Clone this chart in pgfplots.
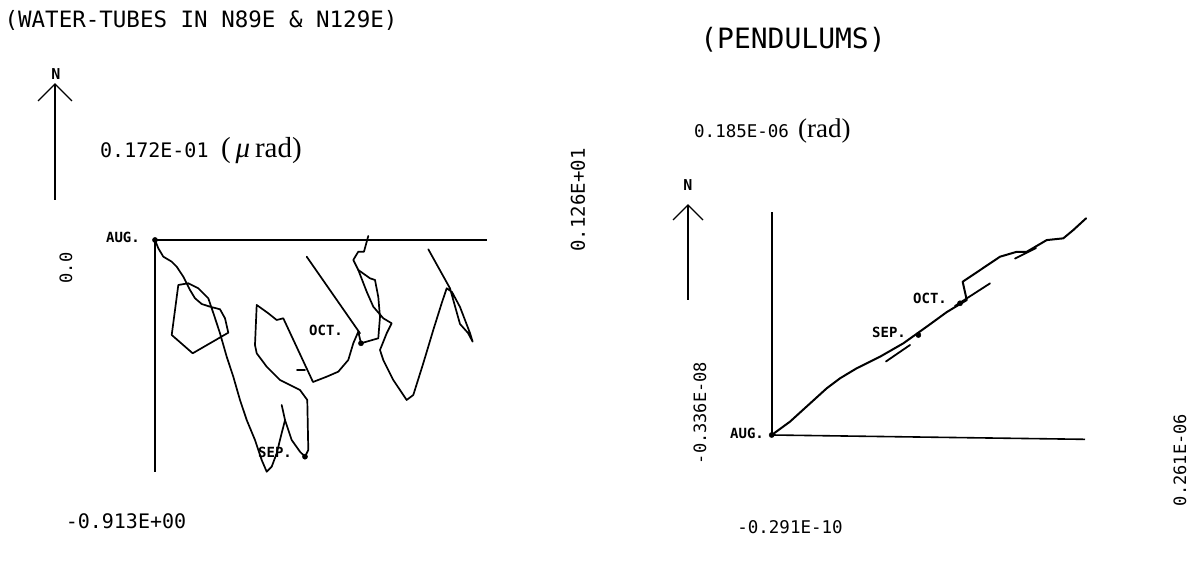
\documentclass[border=0pt]{standalone}
\usepackage{pgfplots}
\pgfplotsset{compat=1.18}
\usepackage{fontspec}
\newfontfamily\plotfont{DejaVu Sans Mono}
\newfontfamily\serfont{Liberation Serif}
\pgfplotsset{trace/.style={black, line width=1.7pt, line join=round, line cap=round}}
\begin{document}
\begin{tikzpicture}[x=1pt,y=1pt]
\useasboundingbox (0pt,0pt) rectangle (1193pt,576pt);
% ---------------- left panel: water tubes ----------------
\begin{axis}[at={(155pt,104.1pt)}, anchor=south west, scale only axis,
  width=332pt, height=236.3pt, xmin=0, xmax=1.3175, ymin=-0.913, ymax=0.0172,
  hide axis, clip=false]
\addplot[black, line width=1.8pt] coordinates {(0,0) (1.3175,0)};
\addplot[black, line width=1.8pt] coordinates {(0,0) (0,-0.912)};
\addplot[trace] coordinates {
(0,0) (0.0131,-0.0327) (0.0329,-0.0657) (0.0663,-0.0854) (0.0861,-0.1051)
(0.1123,-0.1445) (0.1389,-0.1969) (0.1587,-0.2295) (0.1853,-0.2520)
(0.2182,-0.2626) (0.2579,-0.2728) (0.2778,-0.3083) (0.2909,-0.3650)
(0.1496,-0.4461) (0.0663,-0.3740) (0.0925,-0.1772) (0.1321,-0.1705)
(0.1718,-0.1902) (0.2115,-0.2295) (0.2341,-0.2953) (0.2579,-0.3673)
(0.2845,-0.4594) (0.3107,-0.5382) (0.3373,-0.6299) (0.3639,-0.7087)
(0.3968,-0.7874) (0.4234,-0.8661) (0.4432,-0.9122) (0.4631,-0.8925)
(0.4829,-0.8398) (0.4960,-0.7874) (0.5159,-0.7087) (0.5028,-0.6496)};
\addplot[trace] coordinates {
(0.5159,-0.7087) (0.5424,-0.7874) (0.5754,-0.8335) (0.5952,-0.8531)
(0.6083,-0.8268) (0.6043,-0.6299) (0.5754,-0.5906) (0.4960,-0.5512)
(0.4432,-0.4988) (0.4036,-0.4461) (0.3968,-0.4134) (0.4036,-0.2559)
(0.4496,-0.2886) (0.4829,-0.3150) (0.5091,-0.3083) (0.6270,-0.5591)
(0.6813,-0.5382) (0.7273,-0.5185) (0.7670,-0.4724) (0.7869,-0.4067)
(0.8067,-0.3610) (0.8174,-0.4067) (0.8861,-0.3870) (0.8928,-0.3031)
(0.8861,-0.2244) (0.8730,-0.1575) (0.8531,-0.1508) (0.8067,-0.1181)
(0.7869,-0.0787) (0.8067,-0.0461) (0.8293,-0.0461) (0.8464,0.0157)};
\addplot[trace] coordinates {
(0.8067,-0.1181) (0.8400,-0.2035) (0.8662,-0.2626) (0.9059,-0.3083)
(0.9392,-0.3280) (0.9194,-0.3673) (0.8928,-0.4331) (0.9059,-0.4724)
(0.9456,-0.5512) (0.9987,-0.6299) (1.0250,-0.6102) (1.0646,-0.4854)
(1.1043,-0.3543) (1.1376,-0.2492) (1.1575,-0.1902) (1.1785,-0.2047)
(1.2103,-0.2638) (1.2499,-0.3661) (1.2606,-0.4004) (1.2420,-0.3661)
(1.2103,-0.3307) (1.1706,-0.1902) (1.0845,-0.0366)};
\addplot[trace] coordinates {(0.6019,-0.0657) (0.8135,-0.3673)};
\addplot[trace] coordinates {(0.5635,-0.5118) (0.5952,-0.5118)};
\addplot[only marks, mark=*, mark size=2.6pt, black] coordinates {
(0,0) (0.5952,-0.8531) (0.8174,-0.4067)};
\end{axis}
% ---------------- right panel: pendulums (values in 1e-6 rad) ----------------
\begin{axis}[at={(767.65pt,140.97pt)}, anchor=south west, scale only axis,
  width=318.3pt, height=216.6pt, xmin=-0.00336, xmax=0.261, ymin=-0.0000291, ymax=0.185,
  hide axis, clip=false]
\addplot[black, line width=1.6pt] coordinates {(0,0) (0,0.1907)};
\addplot[black, line width=1.6pt] coordinates {(0,0) (0.2602,-0.0037)};
\addplot[trace, line width=2pt] coordinates {
(0,0) (0.0152,0.0114) (0.0457,0.0399) (0.0567,0.0484) (0.0706,0.0570)
(0.0900,0.0669) (0.1093,0.0783) (0.1287,0.0925) (0.1454,0.1050)
(0.1620,0.1153) (0.1586,0.1309) (0.1896,0.1523) (0.2035,0.1565)
(0.2118,0.1565) (0.2284,0.1665) (0.2422,0.1680) (0.2505,0.1751) (0.2611,0.1851)};
\addplot[trace, line width=1.8pt] coordinates {(0.0949,0.0628) (0.1149,0.0769)};
\addplot[trace, line width=1.8pt] coordinates {(0.1522,0.1102) (0.1813,0.1295)};
\addplot[trace, line width=1.8pt] coordinates {(0.2021,0.1507) (0.2195,0.1597)};
\addplot[only marks, mark=*, mark size=2.6pt, black] coordinates {
(0,0) (0.1218,0.0854) (0.1564,0.1125)};
\end{axis}
% ---------------- texts ----------------
\node[font=\plotfont\fontsize{22.5}{22.5}\selectfont] at (201,556) {(WATER-TUBES IN N89E \& N129E)};
\node[font=\plotfont\fontsize{28}{28}\selectfont] at (793,536) {(PENDULUMS)};
% left north arrow
\node[font=\plotfont\bfseries\fontsize{15}{15}\selectfont] at (56,502) {N};
\draw[line width=1.3pt] (55,376) -- (55,492);
\draw[line width=1.3pt] (38,475) -- (55,492) -- (72,475);
\node[anchor=base west, inner sep=0pt, font=\plotfont\fontsize{20}{20}\selectfont] at (100,418) {0.172E-01};
\node[anchor=base west, inner sep=0pt, font=\serfont\fontsize{29}{29}\selectfont] at (221,418) {(\,\textit{μ}\,rad)};
\node[font=\plotfont\bfseries\fontsize{14}{14}\selectfont] at (123,339) {AUG.};
\node[rotate=90, font=\plotfont\fontsize{17}{17}\selectfont] at (66,308) {0.0};
\node[rotate=90, font=\plotfont\fontsize{19}{19}\selectfont] at (578,376) {0.126E+01};
\node[font=\plotfont\fontsize{20}{20}\selectfont] at (126,55) {-0.913E+00};
\node[font=\plotfont\bfseries\fontsize{14}{14}\selectfont] at (275,124) {SEP.};
\node[font=\plotfont\bfseries\fontsize{14}{14}\selectfont] at (326,246) {OCT.};
% right north arrow
\node[font=\plotfont\bfseries\fontsize{15}{15}\selectfont] at (688,391) {N};
\draw[line width=1.3pt] (688,276) -- (688,371);
\draw[line width=1.3pt] (673,356) -- (688,371) -- (703,356);
\node[anchor=base west, inner sep=0pt, font=\plotfont\fontsize{17.5}{17.5}\selectfont] at (694,438) {0.185E-06};
\node[anchor=base west, inner sep=0pt, font=\serfont\fontsize{27}{27}\selectfont] at (798,438) {(rad)};
\node[rotate=90, font=\plotfont\fontsize{17}{17}\selectfont] at (700,163) {-0.336E-08};
\node[font=\plotfont\bfseries\fontsize{14}{14}\selectfont] at (747,143) {AUG.};
\node[font=\plotfont\fontsize{17.5}{17.5}\selectfont] at (790,49) {-0.291E-10};
\node[rotate=90, font=\plotfont\fontsize{17}{17}\selectfont] at (1180,116) {0.261E-06};
\node[font=\plotfont\bfseries\fontsize{14}{14}\selectfont] at (889,244) {SEP.};
\node[font=\plotfont\bfseries\fontsize{14}{14}\selectfont] at (930,278) {OCT.};
\end{tikzpicture}
\end{document}
